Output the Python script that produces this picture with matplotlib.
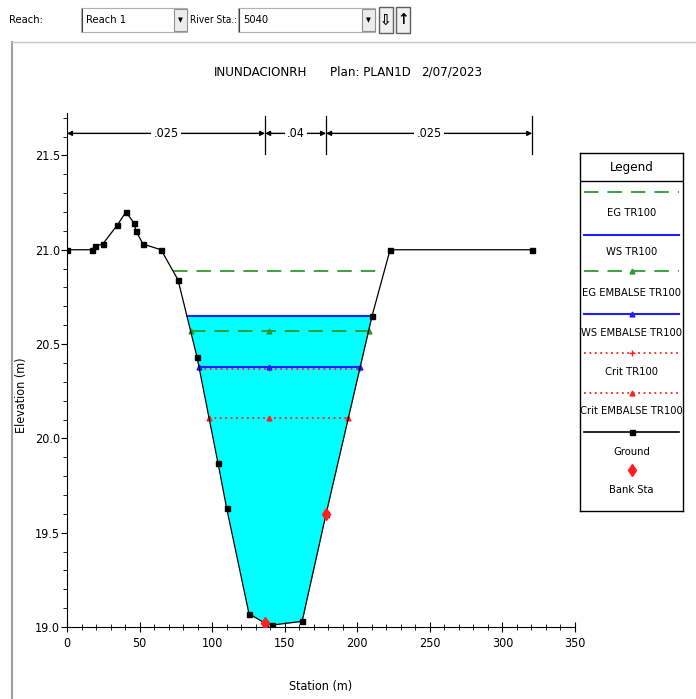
import numpy as np
import matplotlib
matplotlib.use("Agg")
import matplotlib.pyplot as plt
from matplotlib.patches import Rectangle
from matplotlib.lines import Line2D

plt.rcParams['font.family'] = ['DejaVu Sans']
plt.rcParams['font.stretch'] = 'condensed'

# ground profile (station, elevation)
ground_x = [0, 17, 19.3, 24.6, 34.6, 40.6, 46.3, 47.5, 52.4, 64.8, 76.5, 89.6, 104, 110,
            125.4, 136.5, 141, 162, 178.5, 210.2, 222.6, 320.5]
ground_y = [21.0, 21.0, 21.02, 21.03, 21.13, 21.2, 21.14, 21.10, 21.03, 21.0, 20.84, 20.43,
            19.87, 19.63, 19.07, 19.02, 19.01, 19.03, 19.6, 20.65, 21.0, 21.0]
bank_x = [136.5, 178.5]
bank_y = [19.02, 19.6]

# water levels
eg_tr100 = 20.89
ws_tr100 = 20.65
eg_emb = 20.57
ws_emb = 20.38
crit_tr100 = 20.37
crit_emb = 20.11
marker_sta = 139

# manning n regions
n_edges = [0, 136.5, 178.5, 320.5]
n_values = ['.025', '.04', '.025']

title_parts = ['INUNDACIONRH', 'Plan: PLAN1D', '2/07/2023']
legend_labels = ['EG TR100', 'WS TR100', 'EG EMBALSE TR100', 'WS EMBALSE TR100',
                 'Crit TR100', 'Crit EMBALSE TR100', 'Ground', 'Bank Sta']

green = '#2e9a2e'
blue = '#1f1fff'
red = '#ff2020'

gx = np.array(ground_x)
gy = np.array(ground_y)


def wet_limits(z):
    # left / right intersections of a level with the ground inside the channel
    i_low = np.argmin(gy)
    left = gx[:i_low + 1][::-1]
    lefty = gy[:i_low + 1][::-1]
    j = np.argmax(lefty >= z)
    xl = np.interp(z, [lefty[j - 1], lefty[j]], [left[j - 1], left[j]])
    right = gx[i_low:]
    righty = gy[i_low:]
    k = np.argmax(righty >= z)
    xr = np.interp(z, [righty[k - 1], righty[k]], [right[k - 1], right[k]])
    return xl, xr


W, H = 696, 699
fig = plt.figure(figsize=(W / 100, H / 100), dpi=100)


def px_rect(x0, y0, x1, y1):
    return [x0 / W, 1 - y1 / H, (x1 - x0) / W, (y1 - y0) / H]


ax = fig.add_axes(px_rect(67, 113, 575, 627))

# cyan water fill under WS TR100
xl, xr = wet_limits(ws_tr100)
xs = np.linspace(xl, xr, 600)
ax.fill_between(xs, np.interp(xs, gx, gy), ws_tr100, color='#00ffff', lw=0, zorder=1)

# water surface lines
a, b = wet_limits(eg_tr100)
ax.plot([a, b], [eg_tr100] * 2, color=green, ls=(0, (8, 5)), lw=1.3, zorder=3)
ax.plot([xl, xr], [ws_tr100] * 2, color=blue, lw=1.5, zorder=3)
a, b = wet_limits(eg_emb)
ax.plot([a, marker_sta, b], [eg_emb] * 3, color=green, ls=(0, (8, 5)), lw=1.3,
        marker='^', ms=3.5, zorder=3)
a, b = wet_limits(crit_tr100)
ax.plot([a, marker_sta, b], [crit_tr100] * 3, color=red, ls=(0, (1, 2)), lw=1.3,
        marker='+', ms=3.5, zorder=3)
a, b = wet_limits(ws_emb)
ax.plot([a, marker_sta, b], [ws_emb] * 3, color=blue, lw=1.5, marker='^', ms=3.5, zorder=4)
a, b = wet_limits(crit_emb)
ax.plot([a, marker_sta, b], [crit_emb] * 3, color=red, ls=(0, (1, 2)), lw=1.3,
        marker='^', ms=3.5, zorder=3)

# ground
ax.plot(gx, gy, color='black', lw=0.9, marker='s', ms=3.6, zorder=5)
ax.plot(bank_x, bank_y, ls='none', marker='d', color=red, ms=6, zorder=6)

# manning n annotations
y_arrow = 21.617
for x0, x1, lab in zip(n_edges[:-1], n_edges[1:], n_values):
    ax.annotate('', xy=(x0, y_arrow), xytext=(x1, y_arrow),
                arrowprops=dict(arrowstyle='<|-|>', color='black', lw=1.0,
                                shrinkA=0, shrinkB=0, mutation_scale=7), zorder=2)
    ax.text((x0 + x1) / 2, y_arrow, lab, ha='center', va='center', fontsize=9,
            bbox=dict(facecolor='white', edgecolor='none', pad=1.5), zorder=3)
for xe in n_edges[1:]:
    ax.plot([xe, xe], [21.51, 21.71], color='black', lw=0.9, clip_on=False)

ax.set_xlim(0, 350)
ax.set_ylim(19.0, 21.725)
ax.spines['top'].set_visible(False)
ax.spines['right'].set_visible(False)
ax.set_xticks(np.arange(0, 351, 50))
ax.set_xticks(np.arange(0, 351, 10), minor=True)
ax.set_yticks([19.0, 19.5, 20.0, 20.5, 21.0, 21.5])
ax.set_yticklabels(['19.0', '19.5', '20.0', '20.5', '21.0', '21.5'])
ax.set_yticks(np.arange(19.0, 21.71, 0.1), minor=True)
ax.tick_params(axis='x', which='major', direction='inout', length=7, labelsize=9, pad=4)
ax.tick_params(axis='x', which='minor', direction='inout', length=5)
ax.tick_params(axis='y', which='major', direction='out', length=4, labelsize=9, pad=1)
ax.tick_params(axis='y', which='minor', direction='out', length=3)
ax.set_xlabel('Station (m)', fontsize=9)
ax.xaxis.set_label_coords(0.5, -0.104)
ax.set_ylabel('Elevation (m)', fontsize=9)
ax.yaxis.set_label_coords(-0.077, 0.45)

# title pieces placed like the original header
for cx, part in zip([261, 370, 452], title_parts):
    fig.text(cx / W, 1 - 72 / H, part, ha='center', va='center', fontsize=9.5)

# legend panel
lax = fig.add_axes(px_rect(580, 153, 683, 511))
lax.set_xlim(580, 683)
lax.set_ylim(511, 153)
lax.set_xticks([])
lax.set_yticks([])
for s in lax.spines.values():
    s.set_linewidth(1.0)
lax.text(631.5, 167, 'Legend', ha='center', va='center', fontsize=9.5)
lax.plot([580, 683], [181, 181], color='black', lw=1.0)
line_y = [192, 235, 271, 314, 353, 393, 432, 470]
text_y = [213, 252, 293, 333, 372, 411, 452, 490]
styles = [
    dict(color=green, ls=(0, (8, 5)), lw=1.3),
    dict(color=blue, lw=1.5),
    dict(color=green, ls=(0, (8, 5)), lw=1.3, marker='^', ms=3.5),
    dict(color=blue, lw=1.5, marker='^', ms=3.5),
    dict(color=red, ls=(0, (1, 2)), lw=1.3, marker='+', ms=4),
    dict(color=red, ls=(0, (1, 2)), lw=1.3, marker='^', ms=3.5),
    dict(color='black', lw=1.2, marker='s', ms=3.6),
    dict(color=red, ls='none', marker='d', ms=6),
]
for ly, ty, lab, st in zip(line_y, text_y, legend_labels, styles):
    lax.plot([584, 631.5, 679], [ly] * 3, markevery=[1], **st)
    lax.text(631.5, ty, lab, ha='center', va='center', fontsize=8)

# window frame and toolbar
fig.add_artist(Line2D([12 / W, 12 / W], [0, 1 - 42 / H], color='#a0a0a0', lw=1.5))
fig.add_artist(Line2D([12 / W, 1], [1 - 42 / H, 1 - 42 / H], color='#c8c8c8', lw=1.0))
fig.text(9 / W, 1 - 20 / H, 'Reach:', ha='left', va='center', fontsize=8)
fig.add_artist(Rectangle((81 / W, 1 - 32 / H), 106 / W, 24 / H, facecolor='white',
                         edgecolor='#b0b0b0', lw=0.8))
fig.add_artist(Line2D([82 / W, 82 / W], [1 - 31 / H, 1 - 9 / H], color='#404040', lw=0.8))
fig.text(86 / W, 1 - 20 / H, 'Reach 1', ha='left', va='center', fontsize=8)
fig.add_artist(Rectangle((174 / W, 1 - 31 / H), 13 / W, 22 / H, facecolor='#ececec',
                         edgecolor='#909090', lw=0.8))
fig.text(180.5 / W, 1 - 20 / H, '\u25bc', ha='center', va='center', fontsize=5)
fig.text(190 / W, 1 - 20 / H, 'River Sta.:', ha='left', va='center', fontsize=7.2)
fig.add_artist(Rectangle((238 / W, 1 - 32 / H), 137 / W, 24 / H, facecolor='white',
                         edgecolor='#b0b0b0', lw=0.8))
fig.add_artist(Line2D([239 / W, 239 / W], [1 - 31 / H, 1 - 9 / H], color='#404040', lw=0.8))
fig.text(243 / W, 1 - 20 / H, '5040', ha='left', va='center', fontsize=8)
fig.add_artist(Rectangle((362 / W, 1 - 31 / H), 13 / W, 22 / H, facecolor='#ececec',
                         edgecolor='#909090', lw=0.8))
fig.text(368.5 / W, 1 - 20 / H, '\u25bc', ha='center', va='center', fontsize=5)
for bx, glyph in [(379, '\u21e9'), (396, '\u2191')]:
    fig.add_artist(Rectangle((bx / W, 1 - 33 / H), 14 / W, 26 / H, facecolor='#f0f0f0',
                             edgecolor='#606060', lw=1.0))
    fig.text((bx + 7) / W, 1 - 20 / H, glyph, ha='center', va='center', fontsize=11,
             weight='bold')

fig.savefig('out.png', dpi=100, facecolor='white')
